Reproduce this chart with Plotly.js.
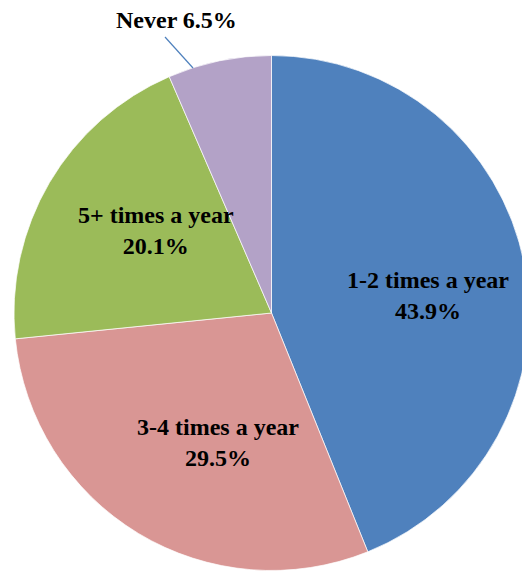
<!DOCTYPE html>
<html>
<head>
<meta charset="utf-8">
<script src="https://cdn.plot.ly/plotly-3.0.1.min.js"></script>
<style>
html,body{margin:0;padding:0;width:522px;height:571px;overflow:hidden;background:#fff;}
#chart{width:600px;height:640px;}
</style>
</head>
<body>
<div id="chart"></div>
<script>
const categories = ["1-2 times a year", "3-4 times a year", "5+ times a year", "Never"];
const shares = [43.9, 29.5, 20.1, 6.5];
const colors = ["#4F81BD", "#D99694", "#9BBB59", "#B3A2C7"];

const W = 600, H = 640;
const px = x => x / W;
const py = y => (H - y) / H;

const cx = 271.5, cy = 313, r = 257.5;

const labelFont = {family: "Liberation Serif", size: 24, color: "#000", weight: "bold"};

const labelPos = [
  [427.5, 295],
  [217.5, 442],
  [156, 230],
  [176.5, 20]
];

const annotations = categories.map((c, i) => {
  const text = i === 3
    ? c + " " + shares[i].toFixed(1) + "%"
    : c + "<br>" + shares[i].toFixed(1) + "%";
  return {
    text: text, xref: "paper", yref: "paper",
    x: px(labelPos[i][0]), y: py(labelPos[i][1]),
    xanchor: "center", yanchor: "middle", showarrow: false,
    font: labelFont, align: "center"
  };
});

const data = [{
  type: "pie",
  labels: categories,
  values: shares,
  sort: false,
  direction: "clockwise",
  rotation: 0,
  textinfo: "none",
  hoverinfo: "label+percent",
  marker: {colors: colors, line: {color: "#FFFFFF", width: 0.7}},
  domain: {x: [px(cx - r), px(cx + r)], y: [py(cy + r), py(cy - r)]},
  showlegend: false
}];

const layout = {
  width: W, height: H,
  margin: {l: 0, r: 0, t: 0, b: 0},
  paper_bgcolor: "#FFFFFF",
  showlegend: false,
  annotations: annotations,
  shapes: [{
    type: "line", xref: "paper", yref: "paper",
    x0: px(165), y0: py(37), x1: px(193), y1: py(68),
    line: {color: "#4F81BD", width: 1.2}
  }]
};

Plotly.newPlot("chart", data, layout, {staticPlot: true, displayModeBar: false});
</script>
</body>
</html>
